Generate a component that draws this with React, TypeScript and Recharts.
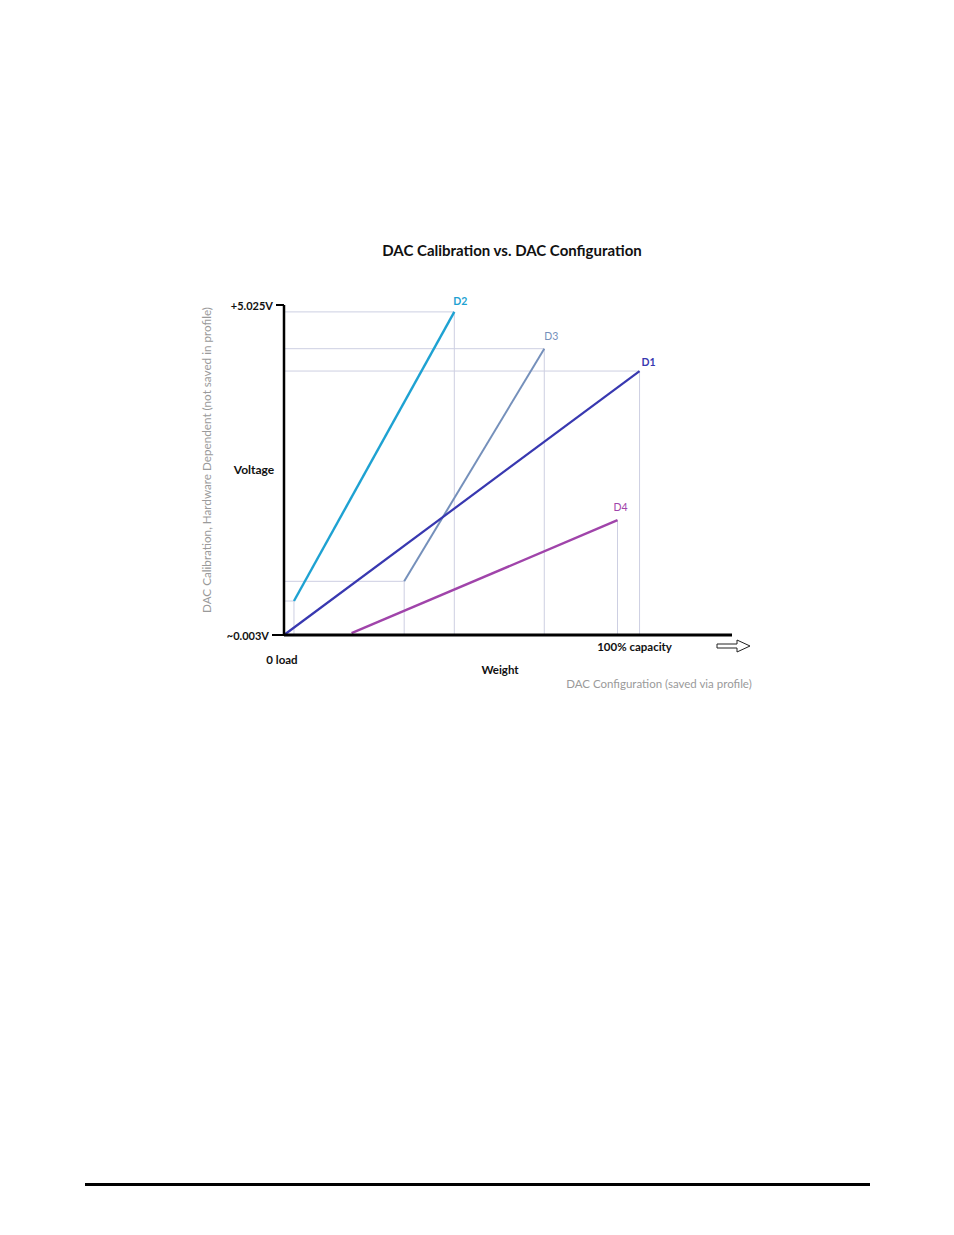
import {
  ComposedChart,
  Line,
  XAxis,
  YAxis,
  ReferenceLine,
  LabelList,
} from 'recharts'

// voltage output (V) against load (% of capacity) for the four DAC setups
const D1 = [
  { x: 0, y: 0.003 },
  { x: 100, y: 4.02 },
]
const D2 = [
  { x: 2.8, y: 0.52 },
  { x: 47.9, y: 4.92 },
]
const D3 = [
  { x: 33.8, y: 0.82 },
  { x: 73.2, y: 4.36 },
]
const D4 = [
  { x: 19, y: 0.03 },
  { x: 93.8, y: 1.75 },
]

const yTicks = [0.003, 5.025]
const yTickLabels = ['~0.003V', '+5.025V']
const xTicks = [0, 100]
const xTickLabels = ['0 load', '100% capacity']

const FONT = 'Lato, "Open Sans", sans-serif'
const GUIDE = '#cdcfe2'
const Y_MIN = 0.003
const Y_MAX = 5.025

const series = [
  { name: 'D2', data: D2, color: '#1ea2d2', width: 2.4, bold: true, dx: 6, dy: -11, startGuide: true, hGuide: true },
  { name: 'D3', data: D3, color: '#7590bb', width: 2, bold: false, dx: 7, dy: -13, startGuide: true, hGuide: true },
  { name: 'D1', data: D1, color: '#3838b0', width: 2.2, bold: true, dx: 9, dy: -9, startGuide: false, hGuide: true },
  { name: 'D4', data: D4, color: '#a044aa', width: 2.4, bold: false, dx: 3, dy: -13, startGuide: false, hGuide: false },
]

// thin guide lines dropped from the end points to both axes
const guides = series.flatMap((s) => {
  const pts = s.startGuide ? [s.data[0], s.data[s.data.length - 1]] : [s.data[s.data.length - 1]]
  return pts.flatMap((p) => {
    const segs = [[{ x: p.x, y: p.y }, { x: p.x, y: Y_MIN }]]
    if (s.hGuide) segs.push([{ x: 0, y: p.y }, { x: p.x, y: p.y }])
    return segs
  })
})

function YTick({ x, y, payload }: any) {
  const i = yTicks.indexOf(payload.value)
  const len = i === 0 ? 12 : 8
  return (
    <g>
      <line x1={x - len} x2={x} y1={y} y2={y} stroke="#000" strokeWidth={2} />
      <text
        x={x - len - 3}
        y={y}
        textAnchor="end"
        dominantBaseline="central"
        fontFamily={FONT}
        fontWeight={700}
        fontSize={11}
        fill="#111"
      >
        {yTickLabels[i]}
      </text>
    </g>
  )
}

function XTick({ x, y, payload }: any) {
  const i = xTicks.indexOf(payload.value)
  return (
    <text
      x={i === 0 ? x - 2 : x - 5}
      y={i === 0 ? y + 24 : y + 11}
      textAnchor="middle"
      dominantBaseline="central"
      fontFamily={FONT}
      fontWeight={700}
      fontSize={11.5}
      fill="#111"
    >
      {xTickLabels[i]}
    </text>
  )
}

function endLabel(s: (typeof series)[number]) {
  return (props: any) => {
    if (props.index !== s.data.length - 1) return null
    return (
      <text
        x={props.x + s.dx}
        y={props.y + s.dy}
        textAnchor="middle"
        dominantBaseline="central"
        fontFamily={FONT}
        fontWeight={s.bold ? 700 : 400}
        fontSize={10.5}
        fill={s.color}
      >
        {s.name}
      </text>
    )
  }
}

export default function App() {
  return (
    <div style={{ position: 'relative', width: 938, height: 1219 }}>
      <div style={{ position: 'absolute', left: 0, top: 0 }}>
        <ComposedChart
          width={938}
          height={1219}
          margin={{ top: 297, left: 216, right: 214, bottom: 552 }}
        >
          <XAxis
            type="number"
            dataKey="x"
            domain={[0, 126]}
            ticks={xTicks}
            tick={<XTick />}
            tickLine={false}
            tickSize={0}
            tickMargin={0}
            height={40}
            axisLine={{ stroke: '#000', strokeWidth: 3 }}
            allowDuplicatedCategory={false}
          />
          <YAxis
            type="number"
            dataKey="y"
            domain={[Y_MIN, Y_MAX]}
            ticks={yTicks}
            tick={<YTick />}
            tickLine={false}
            tickSize={0}
            tickMargin={0}
            width={60}
            axisLine={{ stroke: '#000', strokeWidth: 2.5 }}
          />
          {guides.map((seg, i) => (
            <ReferenceLine key={`g-${i}`} segment={seg} stroke={GUIDE} strokeWidth={1} />
          ))}
          {series.map((s) => (
            <Line
              key={s.name}
              data={s.data}
              dataKey="y"
              type="linear"
              stroke={s.color}
              strokeWidth={s.width}
              dot={false}
              activeDot={false}
              isAnimationActive={false}
            >
              <LabelList dataKey="y" content={endLabel(s)} />
            </Line>
          ))}
        </ComposedChart>
      </div>

      <svg
        width={938}
        height={1219}
        style={{ position: 'absolute', left: 0, top: 0, pointerEvents: 'none' }}
      >
        <g fontFamily={FONT} dominantBaseline="central">
          <text x={504} y={242} textAnchor="middle" fontWeight={700} fontSize={15} fill="#111">
            DAC Calibration vs. DAC Configuration
          </text>
          <text x={246} y={461} textAnchor="middle" fontWeight={700} fontSize={12} fill="#111">
            Voltage
          </text>
          <text x={492} y={661} textAnchor="middle" fontWeight={700} fontSize={11.5} fill="#111">
            Weight
          </text>
          <text x={651} y={675} textAnchor="middle" fontSize={11.5} fill="#9a9a9a">
            DAC Configuration (saved via profile)
          </text>
          <text
            transform="translate(198 452) rotate(-90)"
            textAnchor="middle"
            fontSize={11.7}
            fill="#9a9a9a"
          >
            DAC Calibration, Hardware Dependent (not saved in profile)
          </text>
        </g>
        {/* hollow arrow to the right of the weight axis */}
        <polygon
          points="709,636 729,636 729,632 742,638 729,644 729,640 709,640"
          fill="#fff"
          stroke="#222"
          strokeWidth={1}
        />
        <rect x={77} y={1175} width={785} height={3} fill="#000" />
      </svg>
    </div>
  )
}
